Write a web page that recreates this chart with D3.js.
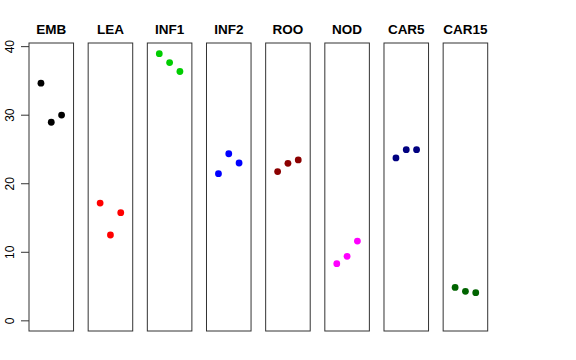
<!DOCTYPE html>
<html><head><meta charset="utf-8">
<script src="https://cdn.jsdelivr.net/npm/d3@7"></script>
<style>body{margin:0;background:#fff}svg{display:block}text{font-family:"Liberation Sans",Arial,sans-serif}</style>
</head><body><svg id="c" width="576" height="360"></svg>
<script>
const categories = ["EMB","LEA","INF1","INF2","ROO","NOD","CAR5","CAR15"];
const replicates = [1,2,3];
const EMB = [34.6, 28.9, 29.95];
const LEA = [17.1, 12.45, 15.7];
const INF1 = [38.9, 37.6, 36.3];
const INF2 = [21.4, 24.3, 22.95];
const ROO = [21.7, 22.9, 23.4];
const NOD = [8.26, 9.34, 11.57];
const CAR5 = [23.7, 24.9, 24.9];
const CAR15 = [4.8, 4.23, 4.03];
const seriesValues = [EMB, LEA, INF1, INF2, ROO, NOD, CAR5, CAR15];
const colors = ["#000000","#FF0000","#00CD00","#0000FF","#8B0000","#FF00FF","#000080","#006400"];
const yTicks = [0,10,20,30,40];

const svg = d3.select("#c");
const x = d3.scaleBand().domain(categories).range([29, 487.7]).paddingInner(0.247).paddingOuter(0);
const y = d3.scaleLinear().domain([-1.556, 40.46]).range([331, 43]);
const xi = d3.scaleLinear().domain([-0.16, 4.16]).range([0, x.bandwidth()]);

categories.forEach((c, i) => {
  const g = svg.append("g").attr("transform", `translate(${x(c)},0)`);
  g.append("rect").attr("x", 0).attr("y", y.range()[1])
    .attr("width", x.bandwidth()).attr("height", y.range()[0] - y.range()[1])
    .attr("fill", "none").attr("stroke", "#333").attr("stroke-width", 1);
  g.append("text").attr("x", x.bandwidth()/2).attr("y", 34)
    .attr("text-anchor", "middle").attr("font-weight", "bold").attr("font-size", 13.5)
    .text(c);
  g.selectAll("circle").data(seriesValues[i]).join("circle")
    .attr("cx", (d, j) => xi(replicates[j])).attr("cy", d => y(d))
    .attr("r", 3.4).attr("fill", colors[i]);
});

const ax = svg.append("g").attr("transform", "translate(29,0)")
  .call(d3.axisLeft(y).tickValues(yTicks).tickSize(8).tickSizeOuter(0));
ax.select(".domain").remove();
ax.selectAll(".tick line").attr("stroke", "#333");
ax.selectAll(".tick text").attr("font-size", 12).attr("fill", "#000")
  .attr("text-anchor", "middle").attr("dy", null)
  .attr("transform", "translate(-19,0) rotate(-90)")
  .attr("x", 0).attr("y", 0).attr("dy", "0.35em");
</script></body></html>
